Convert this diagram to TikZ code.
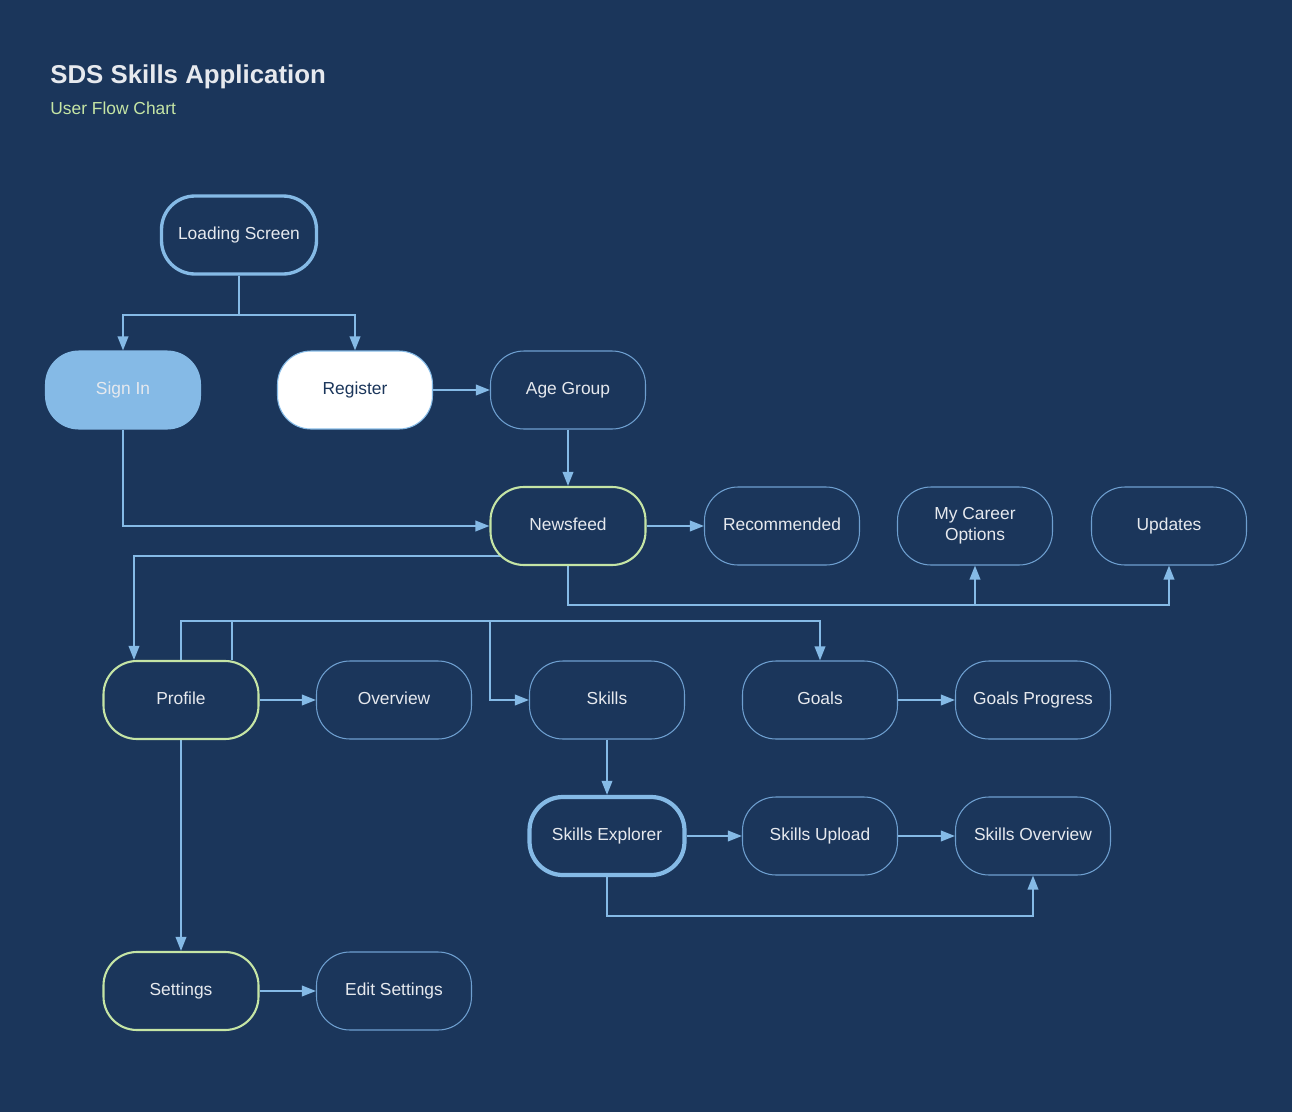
\documentclass[tikz,border=0pt]{standalone}
\usepackage{fontspec}
\setmainfont{Liberation Sans}
\usetikzlibrary{arrows.meta,backgrounds,calc}
\definecolor{bgblue}{HTML}{1B365B}
\definecolor{lineblue}{HTML}{85BAE6}
\definecolor{edgeblue}{HTML}{6E9FD0}
\definecolor{softgreen}{HTML}{C5E5A5}
\definecolor{txtgrey}{HTML}{E6E9EE}
\tikzset{
	screen/.style={draw=edgeblue, line width=0.6pt, fill=bgblue, text=txtgrey, rounded corners=19pt, minimum width=3.1cm, minimum height=1.56cm, align=center, text height=0.75em, text depth=0.25em, font=\fontsize{9.9}{12}\selectfont},
	mainscreen/.style={screen, draw=softgreen, line width=1.2pt},
	keyscreen/.style={screen, draw=lineblue, line width=2.4pt},
	flow/.style={draw=lineblue, line width=1.1pt, -{Triangle[length=8pt,width=6pt]}},
	link/.style={draw=lineblue, line width=1.1pt}
}
\begin{document}
\begin{tikzpicture}[x=0.02cm,y=-0.02cm]
	\useasboundingbox (0,0) rectangle (1292,1112);
	\begin{scope}[on background layer]
		\fill[bgblue] (0,0) rectangle (1292,1112);
	\end{scope}
	\node[anchor=base west, inner sep=0pt, text=txtgrey, font=\fontsize{14.7}{17}\selectfont\bfseries] (title) at (50,83) {SDS Skills Application};
	\node[anchor=base west, inner sep=0pt, text=softgreen, font=\fontsize{9.9}{12}\selectfont] (subtitle) at (50,114) {User Flow Chart};
	% top of the flow
	\node[keyscreen, line width=1.9pt] (loading) at (239,235) {Loading Screen};
	\node[screen, fill=lineblue, draw=lineblue, text=txtgrey] (signin) at (123,390) {Sign In};
	\node[screen, fill=white, draw=lineblue, text=bgblue] (register) at (355,390) {Register};
	\node[screen] (agegroup) at (568,390) {Age Group};
	% newsfeed row
	\node[mainscreen] (newsfeed) at (568,526) {Newsfeed};
	\node[screen] (recommended) at (782,526) {Recommended};
	\node[screen, text height=19.4pt, text depth=2.5pt] (career) at (975,526) {My Career\\Options};
	\node[screen] (updates) at (1169,526) {Updates};
	% profile row
	\node[mainscreen] (profile) at (181,700) {Profile};
	\node[screen] (overview) at (394,700) {Overview};
	\node[screen] (skills) at (607,700) {Skills};
	\node[screen] (goals) at (820,700) {Goals};
	\node[screen] (goalsprog) at (1033,700) {Goals Progress};
	% skills row
	\node[keyscreen] (explorer) at (607,836) {Skills Explorer};
	\node[screen] (upload) at (820,836) {Skills Upload};
	\node[screen] (skillsover) at (1033,836) {Skills Overview};
	% settings row
	\node[mainscreen] (settings) at (181,991) {Settings};
	\node[screen] (editset) at (394,991) {Edit Settings};
	% connectors
	\begin{scope}[on background layer]
		\draw[flow] (loading.south) -- ++(0,39) -| (signin.north);
		\draw[flow] (loading.south) -- ++(0,39) -| (register.north);
		\draw[flow] (register.east) -- (agegroup.west);
		\draw[flow] (agegroup.south) -- (newsfeed.north);
		\draw[flow] (signin.south) |- (newsfeed.west);
		\draw[flow] (newsfeed.east) -- (recommended.west);
		\draw[flow] (newsfeed.south) -- ++(0,39) -| (updates.south);
		\draw[flow] (newsfeed.south) -- ++(0,39) -| (career.south);
		\draw[flow] ($(newsfeed.center)+(-40,30)$) -| ($(profile.north)+(-47,0)$);
		\draw[flow] (profile.north) -- ++(0,-39) -| (goals.north);
		\draw[flow] ($(profile.north)+(51,0)$) -- ++(0,-39) -| ($(skills.west)+(-39,0)$) -- (skills.west);
		\draw[flow] (profile.east) -- (overview.west);
		\draw[flow] (skills.south) -- (explorer.north);
		\draw[flow] (goals.east) -- (goalsprog.west);
		\draw[flow] (explorer.east) -- (upload.west);
		\draw[flow] (upload.east) -- (skillsover.west);
		\draw[flow] (explorer.south) -- ++(0,39) -| (skillsover.south);
		\draw[flow] (profile.south) -- (settings.north);
		\draw[flow] (settings.east) -- (editset.west);
	\end{scope}
\end{tikzpicture}
\end{document}
